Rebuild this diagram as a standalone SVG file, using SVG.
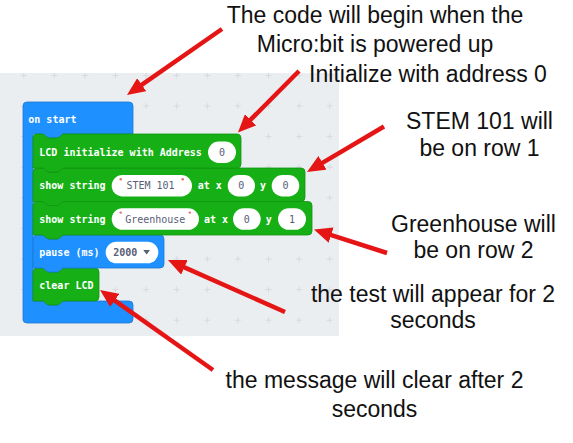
<svg xmlns="http://www.w3.org/2000/svg" width="573" height="443" viewBox="0 0 573 443">
<style>
.lbl{font-family:"Liberation Sans",Arial,sans-serif;font-size:23px;fill:#111;text-anchor:middle}
.bt{font-family:"DejaVu Sans Mono","Liberation Mono",monospace;font-size:10px;font-weight:bold;fill:#fff}
.ft{font-family:"DejaVu Sans Mono","Liberation Mono",monospace;font-size:10px;fill:#575e75;text-anchor:middle}
.green{fill:#16b016;stroke:#0f9410;stroke-width:0.8}
.blue{fill:#1e90ff;stroke:#1a78d6;stroke-width:0.8}
.oval{fill:#fff}
.q{fill:#e07070}
.arrow{stroke:#e51515;stroke-width:4.5;fill:none;marker-end:url(#ah)}
</style>
<defs>
<marker id="ah" markerUnits="userSpaceOnUse" markerWidth="18" markerHeight="16" refX="8" refY="8" orient="auto">
<path d="M0,0 L18,8 L0,16 Z" fill="#e51515"/>
</marker>
<pattern id="grid" patternUnits="userSpaceOnUse" x="8.4" y="60.1" width="30.6" height="30.6">
<path d="M12.3,15.3 h6 M15.3,12.3 v6" stroke="#d5dadf" stroke-width="1"/>
</pattern>
</defs>
<rect width="573" height="443" fill="#fff"/>
<g id="workspace">
<rect x="0" y="73" width="339" height="263" fill="#ebeef0"/>
<rect x="0" y="73" width="339" height="263" fill="url(#grid)"/>
</g>
<g id="on-start">
<path class="blue" d="M23,106 a4,4 0 0 1 4,-4 H129 a4,4 0 0 1 4,4 V134 H63 l-5,4 h-10 l-5,-4 H33 V301 H43 l5,4 h10 l5,-4 H129 a4,4 0 0 1 4,4 V319 a4,4 0 0 1 -4,4 H27 a4,4 0 0 1 -4,-4 Z"/>
<text class="bt" x="28.3" y="122.5">on start</text>
</g>
<g id="clear-lcd">
<path class="green" d="M33,272 a4,4 0 0 1 4,-4 H43 l5,4 h10 l5,-4 H95 a4,4 0 0 1 4,4 V297 a4,4 0 0 1 -4,4 H63 l-5,4 h-10 l-5,-4 H33 Z"/>
<text class="bt" x="39.3" y="288.5">clear LCD</text>
</g>
<g id="pause">
<path class="blue" d="M33,239 a4,4 0 0 1 4,-4 H43 l5,4 h10 l5,-4 H160 a4,4 0 0 1 4,4 V264 a4,4 0 0 1 -4,4 H63 l-5,4 h-10 l-5,-4 H33 Z"/>
<text class="bt" x="39.3" y="255.5">pause (ms)</text>
<rect class="oval" x="105.7" y="241.7" width="52.6" height="21.6" rx="10.8"/>
<text class="ft" x="113.3" y="256" style="text-anchor:start;font-weight:bold">2000</text>
<path d="M143.3,250 H150 L146.6,254.5 Z" fill="#575e75"/>
</g>
<g id="show-string-greenhouse">
<path class="green" d="M33,205.5 a4,4 0 0 1 4,-4 H43 l5,4 h10 l5,-4 H308 a4,4 0 0 1 4,4 V231 a4,4 0 0 1 -4,4 H63 l-5,4 h-10 l-5,-4 H33 Z"/>
<text class="bt" x="39.3" y="222.5">show string</text>
<rect class="oval" x="111.7" y="208.3" width="87.3" height="21.5" rx="10.7"/>
<circle class="q" cx="120.7" cy="212.6" r="1.2"/>
<circle class="q" cx="189.8" cy="212.6" r="1.2"/>
<text class="ft" x="155.3" y="222.5">Greenhouse</text>
<text class="bt" x="204" y="222.5">at x</text>
<rect class="oval" x="233" y="208.3" width="27.7" height="21.5" rx="10.7"/>
<text class="ft" x="246.8" y="222.5">0</text>
<text class="bt" x="265.7" y="222.5">y</text>
<rect class="oval" x="278" y="208.3" width="28" height="21.5" rx="10.7"/>
<text class="ft" x="292" y="222.5">1</text>
</g>
<g id="show-string-stem">
<path class="green" d="M33,172 a4,4 0 0 1 4,-4 H43 l5,4 h10 l5,-4 H301 a4,4 0 0 1 4,4 V197.5 a4,4 0 0 1 -4,4 H63 l-5,4 h-10 l-5,-4 H33 Z"/>
<text class="bt" x="39.3" y="189.2">show string</text>
<rect class="oval" x="111.7" y="175" width="80.3" height="21.5" rx="10.7"/>
<circle class="q" cx="120.7" cy="179.3" r="1.2"/>
<circle class="q" cx="182.7" cy="179.3" r="1.2"/>
<text class="ft" x="150.5" y="189.2">STEM 101</text>
<text class="bt" x="197.7" y="189.2">at x</text>
<rect class="oval" x="227.7" y="175" width="27.3" height="21.5" rx="10.7"/>
<text class="ft" x="241.3" y="189.2">0</text>
<text class="bt" x="260" y="189.2">y</text>
<rect class="oval" x="271.7" y="175" width="27.6" height="21.5" rx="10.7"/>
<text class="ft" x="285.5" y="189.2">0</text>
</g>
<g id="lcd-init">
<path class="green" d="M33,138 a4,4 0 0 1 4,-4 H43 l5,4 h10 l5,-4 H237 a4,4 0 0 1 4,4 V164 a4,4 0 0 1 -4,4 H63 l-5,4 h-10 l-5,-4 H33 Z"/>
<text class="bt" x="39.3" y="155.7">LCD initialize with Address</text>
<rect class="oval" x="208" y="141.5" width="28" height="21.5" rx="10.7"/>
<text class="ft" x="222" y="155.7">0</text>
</g>
<g id="label-begin">
<text class="lbl" x="375" y="22.5">The code will begin when the</text>
<text class="lbl" x="375" y="51.5">Micro:bit is powered up</text>
</g>
<g id="label-init">
<text class="lbl" x="428" y="82">Initialize with address 0</text>
</g>
<g id="label-stem">
<text class="lbl" x="479.5" y="128.5">STEM 101 will</text>
<text class="lbl" x="479.5" y="155.5">be on row 1</text>
</g>
<g id="label-greenhouse">
<text class="lbl" x="473.5" y="231.7">Greenhouse will</text>
<text class="lbl" x="473.5" y="258.3">be on row 2</text>
</g>
<g id="label-pause">
<text class="lbl" x="433" y="301.7">the test will appear for 2</text>
<text class="lbl" x="433" y="328">seconds</text>
</g>
<g id="label-clear">
<text class="lbl" x="374.5" y="387.5">the message will clear after 2</text>
<text class="lbl" x="374.5" y="417">seconds</text>
</g>
<g id="connectors">
<line class="arrow" x1="222" y1="29" x2="135.2" y2="89.3"/>
<line class="arrow" x1="299" y1="71" x2="245" y2="125.4"/>
<line class="arrow" x1="384" y1="126.5" x2="315.6" y2="166.9"/>
<line class="arrow" x1="387" y1="253" x2="323.5" y2="232.6"/>
<line class="arrow" x1="285" y1="312" x2="177.1" y2="264.1"/>
<line class="arrow" x1="213" y1="370" x2="108.2" y2="295.8"/>
</g>
</svg>
